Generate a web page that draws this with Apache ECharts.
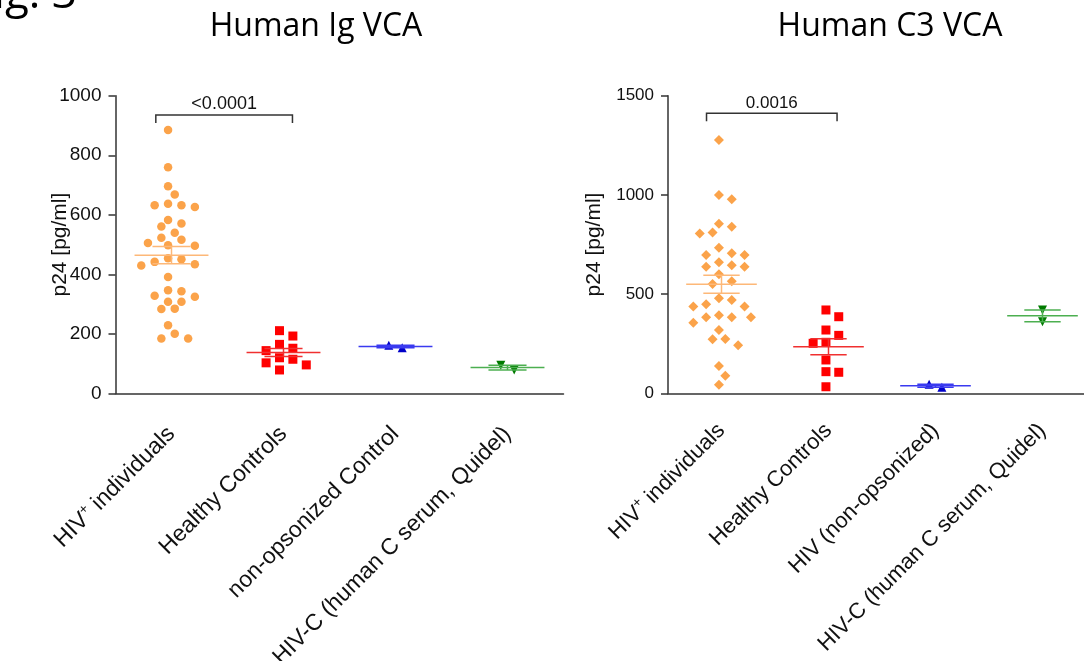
<!DOCTYPE html>
<html>
<head>
<meta charset="utf-8">
<title>Fig. 3 VCA</title>
<script src="https://cdn.jsdelivr.net/npm/echarts@6/dist/echarts.min.js"></script>
<style>
  html, body { margin: 0; background: #fff; }
  #main { width: 1084px; height: 661px; }
</style>
</head>
<body>
<div id="main"></div>
<script>
// category labels
var igCats = ['HIV+ individuals', 'Healthy Controls', 'non-opsonized Control', 'HIV-C (human C serum, Quidel)'];
var c3Cats = ['HIV+ individuals', 'Healthy Controls', 'HIV (non-opsonized)', 'HIV-C (human C serum, Quidel)'];

// Human Ig VCA, p24 [pg/ml]
var igHiv = [885, 760, 696, 668, 637, 632, 626, 632, 583, 561, 571, 540, 516, 523, 505, 498, 496,
             454, 434, 442, 451, 430, 391, 343, 328, 347, 325, 308, 308, 285, 284, 229, 201, 185, 185];
var igHealthy = [211, 193, 165, 152, 144, 120, 115, 103, 96, 79];
var igNonOps = [154, 162];
var igHivC = [79, 95];

// Human C3 VCA, p24 [pg/ml]
var c3Hiv = [1277, 999, 978, 855, 840, 810, 806, 734, 706, 697, 697, 660, 638, 638, 645, 600, 565, 551,
             479, 470, 437, 437, 449, 383, 393, 383, 383, 356, 319, 274, 272, 242, 138, 89, 43];
var c3Healthy = [420, 386, 319, 292, 252, 257, 168, 109, 106, 33];
var c3NonOps = [30, 45];
var c3HivC = [361, 420];

// significance brackets: label, height
var igPValue = ['<0.0001', 935];
var c3PValue = ['0.0016', 1411];

var ORANGE = '#FBA34A', RED = '#FF0000', BLUE = '#0000C8', GREEN = '#007A00';

var groups = [
  {id: 'ig0', grid: 0, cat: 0, values: igHiv, symbol: 'circle', size: 8.5, color: ORANGE, line: '#FDB878', step: 6.7},
  {id: 'ig1', grid: 0, cat: 1, values: igHealthy, symbol: 'rect', size: 9, color: RED, line: '#F03030', step: 6.7},
  {id: 'ig2', grid: 0, cat: 2, values: igNonOps, symbol: 'triangle', size: 9, color: BLUE, line: '#3A3AF0', step: 6.7},
  {id: 'ig3', grid: 0, cat: 3, values: igHivC, symbol: 'triangle', rotate: 180, size: 9, color: GREEN, line: '#4CAF50', step: 6.7},
  {id: 'c30', grid: 1, cat: 0, values: c3Hiv, symbol: 'diamond', size: 10, color: ORANGE, line: '#FDB878', step: 6.4},
  {id: 'c31', grid: 1, cat: 1, values: c3Healthy, symbol: 'rect', size: 9, color: RED, line: '#F03030', step: 6.4},
  {id: 'c32', grid: 1, cat: 2, values: c3NonOps, symbol: 'triangle', size: 9, color: BLUE, line: '#3A3AF0', step: 6.4},
  {id: 'c33', grid: 1, cat: 3, values: c3HivC, symbol: 'triangle', rotate: 180, size: 9, color: GREEN, line: '#4CAF50', step: 6.4}
];

function meanSem(vals) {
  var n = vals.length, m = 0, ss = 0;
  vals.forEach(function (v) { m += v; });
  m /= n;
  vals.forEach(function (v) { ss += (v - m) * (v - m); });
  return [m, Math.sqrt(ss / (n - 1)) / Math.sqrt(n)];
}

function errRender(color) {
  return function (params, api) {
    var x = api.value(0), m = api.value(1), s = api.value(2);
    var c = api.coord([x, m]);
    var hi = api.coord([x, m + s]), lo = api.coord([x, m - s]);
    var bw = api.size([1, 0])[0];
    var w1 = bw * 0.33, w2 = bw * 0.17;
    var st = {stroke: color, lineWidth: 1.5};
    return {type: 'group', children: [
      {type: 'line', shape: {x1: c[0] - w1, y1: c[1], x2: c[0] + w1, y2: c[1]}, style: st},
      {type: 'line', shape: {x1: c[0] - w2, y1: hi[1], x2: c[0] + w2, y2: hi[1]}, style: st},
      {type: 'line', shape: {x1: c[0] - w2, y1: lo[1], x2: c[0] + w2, y2: lo[1]}, style: st},
      {type: 'line', shape: {x1: c[0], y1: hi[1], x2: c[0], y2: lo[1]}, style: st}
    ]};
  };
}

function bracketRender(label, font) {
  return function (params, api) {
    var a = api.coord([api.value(0), api.value(2)]);
    var b = api.coord([api.value(1), api.value(2)]);
    var bw = api.size([1, 0])[0];
    var x1 = a[0] - bw * 0.14, x2 = b[0] + bw * 0.08, y = a[1];
    return {type: 'group', children: [
      {type: 'polyline', shape: {points: [[x1, y + 8], [x1, y], [x2, y], [x2, y + 8]]},
       style: {stroke: '#333', lineWidth: 1.5, fill: null}},
      {type: 'text', x: (x1 + x2) / 2, y: y - 2,
       style: {text: label, font: font, align: 'center', verticalAlign: 'bottom', fill: '#111'}}
    ]};
  };
}

var leftFont = '"Liberation Sans", Arial, sans-serif';
var rightFont = '"Liberation Sans Narrow", "Liberation Sans", Arial, sans-serif';

function catLabel(v) {
  return v === 'HIV+ individuals' ? 'HIV{sup|+} individuals' : v;
}

function xAxisFor(gi, cats, font, size, margin) {
  return {
    type: 'category', gridIndex: gi, data: cats, boundaryGap: true,
    axisLine: {lineStyle: {color: '#333', width: 1.5}},
    axisTick: {alignWithLabel: true, length: 7, lineStyle: {color: '#333', width: 1.5}},
    axisLabel: {
      rotate: 45, margin: margin, color: '#111', fontFamily: font, fontSize: size, interval: 0,
      formatter: catLabel,
      rich: {sup: {fontSize: 14, fontFamily: font, color: '#111', padding: [0, 0, 12, 0]}}
    },
    splitLine: {show: false}
  };
}

function yAxisFor(gi, max, interval, font, size, gap) {
  return {
    type: 'value', gridIndex: gi, min: 0, max: max, interval: interval,
    name: 'p24 [pg/ml]', nameLocation: 'middle', nameGap: gap, nameRotate: 90,
    nameMoveOverlap: false,
    nameTextStyle: {fontFamily: font, fontSize: 21, color: '#111'},
    axisLine: {show: true, lineStyle: {color: '#333', width: 1.5}},
    axisTick: {show: true, length: 7, lineStyle: {color: '#333', width: 1.5}},
    axisLabel: {margin: 14, color: '#111', fontFamily: font, fontSize: size,
                formatter: function (v) { return String(v); }},
    splitLine: {show: false}
  };
}

var series = [];
groups.forEach(function (g) {
  series.push({
    id: g.id, type: 'scatter', xAxisIndex: g.grid, yAxisIndex: g.grid,
    symbol: g.symbol, symbolSize: g.size, symbolRotate: g.rotate || 0,
    itemStyle: {color: g.color, opacity: 1}, z: 3,
    data: g.values.map(function (v) { return [g.cat, v]; })
  });
  var ms = meanSem(g.values);
  series.push({
    type: 'custom', xAxisIndex: g.grid, yAxisIndex: g.grid, z: 4,
    renderItem: errRender(g.line), encode: {x: 0, y: 1},
    data: [[g.cat, ms[0], ms[1]]]
  });
});
series.push({
  type: 'custom', xAxisIndex: 0, yAxisIndex: 0, renderItem: bracketRender(igPValue[0], '18px ' + leftFont),
  encode: {x: 0, y: 2}, data: [[0, 1, igPValue[1]]]
});
series.push({
  type: 'custom', xAxisIndex: 1, yAxisIndex: 1, renderItem: bracketRender(c3PValue[0], '17px ' + rightFont),
  encode: {x: 0, y: 2}, data: [[0, 1, c3PValue[1]]]
});

var chart = echarts.init(document.getElementById('main'));
var option = {
  backgroundColor: '#fff',
  animation: false,
  grid: [
    {left: 115.5, top: 95.7, width: 448, height: 297.8, containLabel: false, outerBoundsMode: 'none'},
    {left: 668, top: 95.7, width: 428, height: 297.6, containLabel: false, outerBoundsMode: 'none'}
  ],
  xAxis: [xAxisFor(0, igCats, leftFont, 23, 37), xAxisFor(1, c3Cats, rightFont, 22, 34)],
  yAxis: [yAxisFor(0, 1000, 200, leftFont, 19, 45), yAxisFor(1, 1500, 500, rightFont, 17, 63)],
  graphic: [
    {type: 'text', x: 77, y: -5, style: {text: 'Fig. 3', font: '44px "Open Sans"', align: 'right', verticalAlign: 'middle', fill: '#000'}},
    {type: 'text', x: 316, y: 27, style: {text: 'Human Ig VCA', font: '32px "Open Sans"', align: 'center', verticalAlign: 'middle', fill: '#000'}},
    {type: 'text', x: 890, y: 27, style: {text: 'Human C3 VCA', font: '32px "Open Sans"', align: 'center', verticalAlign: 'middle', fill: '#000'}}
  ],
  series: series
};
chart.setOption(option);

// spread overlapping points sideways (simple beeswarm on pixel positions)
var updates = groups.map(function (g) {
  var pts = g.values.map(function (v, i) {
    return {i: i, y: chart.convertToPixel({yAxisIndex: g.grid}, v), dx: 0};
  });
  var order = pts.slice().sort(function (a, b) { return a.y - b.y; });
  var minD = g.size + 0.8;
  var placed = [];
  order.forEach(function (p) {
    for (var k = 0; k < 40; k++) {
      var off = (k % 2 === 1 ? 1 : -1) * Math.ceil(k / 2) * g.step;
      var ok = placed.every(function (q) {
        var dx = q.dx - off, dy = q.y - p.y;
        return dx * dx + dy * dy >= minD * minD;
      });
      if (ok) { p.dx = off; break; }
    }
    placed.push(p);
  });
  var mean = 0;
  pts.forEach(function (p) { mean += p.dx; });
  mean /= pts.length;
  return {
    id: g.id,
    data: g.values.map(function (v, i) {
      return {value: [g.cat, v], symbolOffset: [pts[i].dx - mean, 0]};
    })
  };
});
chart.setOption({series: updates});
</script>
</body>
</html>
